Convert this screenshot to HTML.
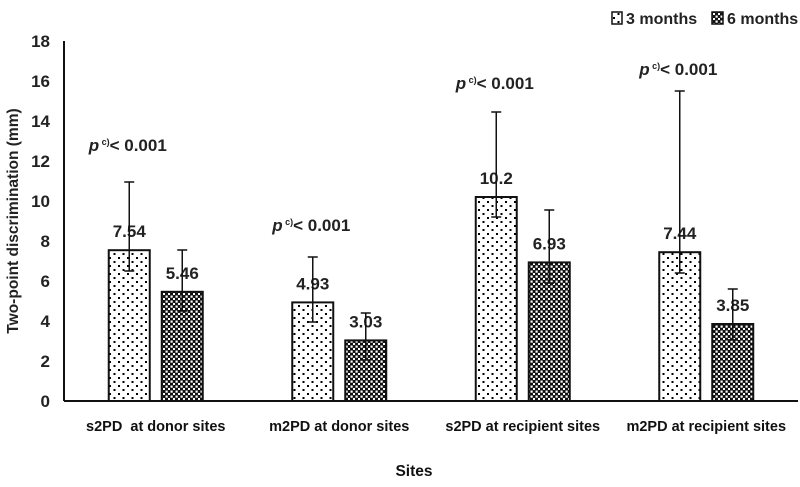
<!DOCTYPE html>
<html><head><meta charset="utf-8"><style>
html,body{margin:0;padding:0;background:#fff;}
svg text{font-family:"Liberation Sans",sans-serif;font-weight:bold;fill:#222;}
</style></head><body>
<svg id="chart" width="800" height="482" viewBox="0 0 800 482" xmlns="http://www.w3.org/2000/svg">
<defs>
<pattern id="dots" patternUnits="userSpaceOnUse" width="9" height="8">
<rect width="9" height="8" fill="#fff"/>
<rect x="1" y="1" width="2" height="2" fill="#000"/>
<rect x="5.5" y="5" width="2" height="2" fill="#000"/>
</pattern>
<pattern id="cross" patternUnits="userSpaceOnUse" width="5" height="5">
<rect width="5" height="5" fill="#111"/>
<rect x="0.5" y="0.5" width="2.2" height="2.2" fill="#fff"/>
<rect x="3" y="3" width="2" height="2" fill="#fff"/>
</pattern>
</defs>
<g id="plot"></g>
</svg>
<script>
const categories = ["s2PD  at donor sites","m2PD at donor sites","s2PD at recipient sites","m2PD at recipient sites"];
const months3 = [7.54, 4.93, 10.2, 7.44];
const months6 = [5.46, 3.03, 6.93, 3.85];
const err3Upper = [10.95, 7.2, 14.45, 15.5];
const err3Lower = [6.5, 3.95, 9.2, 6.4];
const err6Upper = [7.55, 4.4, 9.55, 5.6];
const err6Lower = [4.5, 2.05, 5.9, 3.05];
const pValueLabels = ["< 0.001","< 0.001","< 0.001","< 0.001"];
const pValueHeights = [12.8, 8.8, 15.9, 16.6];
const yTicks = [0,2,4,6,8,10,12,14,16,18];

const NS="http://www.w3.org/2000/svg";
const g=document.getElementById('plot');
const x0=64,x1=798,y0=401,yTop=41,yMax=18;
const yScale=v=>y0-(v/yMax)*(y0-yTop);
const bandW=(x1-x0)/categories.length;
const bandC=i=>x0+bandW*(i+0.5);
const barW=41,gap=12;
function el(tag,attrs,text){const e=document.createElementNS(NS,tag);for(const k in attrs)e.setAttribute(k,attrs[k]);if(text!==undefined)e.textContent=text;g.appendChild(e);return e;}

yTicks.forEach(t=>{
  const e=el('text',{x:50,y:yScale(t)+6,'text-anchor':'end','font-size':17},String(t));
  
  
});
const yt=el('text',{x:0,y:0,'text-anchor':'middle','font-size':15.5,transform:'translate(18,221) rotate(-90)'},'Two-point discrimination (mm)');



function errBar(cx,lo,hi,name){
  const ln=el('line',{x1:cx,x2:cx,y1:yScale(hi),y2:yScale(lo),stroke:'#111','stroke-width':1.5});
  
  
  el('line',{x1:cx-5,x2:cx+5,y1:yScale(hi),y2:yScale(hi),stroke:'#111','stroke-width':1.5});
  el('line',{x1:cx-5,x2:cx+5,y1:yScale(lo),y2:yScale(lo),stroke:'#111','stroke-width':1.5});
}

categories.forEach((c,i)=>{
  const cx=bandC(i);
  const xa=cx-gap/2-barW, xb=cx+gap/2;
  const b1=el('rect',{x:xa,y:yScale(months3[i]),width:barW,height:y0-yScale(months3[i]),fill:'url(#dots)',stroke:'#111','stroke-width':2});
  
  
  const b2=el('rect',{x:xb,y:yScale(months6[i]),width:barW,height:y0-yScale(months6[i]),fill:'url(#cross)',stroke:'#111','stroke-width':2});
  
  
  const l1=el('text',{x:xa+barW/2,y:yScale(months3[i])-13,'text-anchor':'middle','font-size':17},String(months3[i]));
  
  
  const l2=el('text',{x:xb+barW/2,y:yScale(months6[i])-13,'text-anchor':'middle','font-size':17},String(months6[i]));
  
  
  errBar(xa+barW/2,err3Lower[i],err3Upper[i],'error-bar-3-months-'+(i+1));
  errBar(xb+barW/2,err6Lower[i],err6Upper[i],'error-bar-6-months-'+(i+1));
  const p=el('text',{x:cx-28,y:yScale(pValueHeights[i])+6,'text-anchor':'middle','font-size':17});
  
  
  p.innerHTML='<tspan font-style="italic">p</tspan><tspan font-size="9" dy="-6"> c)</tspan><tspan dy="6">'+pValueLabels[i]+'</tspan>';
  const cl=el('text',{x:cx,y:431,'text-anchor':'middle','font-size':14.5},c);
  
  
  cl.setAttribute('style','white-space:pre;fill:#111');
});

const ax=el('line',{x1:x0,x2:x0,y1:yTop,y2:y0,stroke:'#111','stroke-width':2});


const bx=el('line',{x1:x0,x2:x1,y1:y0,y2:y0,stroke:'#111','stroke-width':2});


const xt=el('text',{x:414,y:476,'text-anchor':'middle','font-size':15.5},'Sites');

xt.setAttribute('style','fill:#111');


const lg1=el('rect',{x:612,y:12,width:10,height:12,fill:'url(#dots)',stroke:'#111','stroke-width':1.5});


const lt1=el('text',{x:626,y:24,'font-size':16},'3 months');


const lg2=el('rect',{x:712,y:12,width:11,height:12,fill:'url(#cross)',stroke:'#111','stroke-width':1.5});


const lt2=el('text',{x:727,y:24,'font-size':16},'6 months');


</script>
</body></html>
